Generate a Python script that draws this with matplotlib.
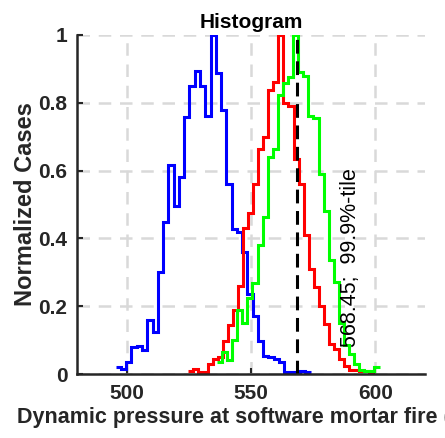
import numpy as np
import matplotlib
matplotlib.use("Agg")
from matplotlib import pyplot as plt

# normalized bin heights
blue_start = 495.56
blue_width = 2.12
blue_vals = [0.022, 0.015, 0.034, 0.079, 0.084, 0.071, 0.158, 0.125, 0.30, 0.448,
             0.616, 0.497, 0.581, 0.759, 0.849, 0.895, 0.849, 0.76, 1.0, 0.889,
             0.778, 0.56, 0.429, 0.419, 0.36, 0.236, 0.17, 0.097, 0.054, 0.05,
             0.045, 0.035, 0.005, 0.005, 0.0, 0.008, 0.005]

red_start = 524.48
red_width = 2.03
red_vals = [0.008, 0.015, 0.005, 0.005, 0.03, 0.044, 0.05, 0.098, 0.145, 0.19,
            0.26, 0.43, 0.475, 0.56, 0.665, 0.70, 0.837, 0.862, 1.0, 0.80,
            0.79, 0.635, 0.56, 0.41, 0.31, 0.256, 0.20, 0.148, 0.089, 0.074,
            0.044, 0.025, 0.012, 0.012, 0.008, 0.008, 0.005]

green_start = 536.29
green_width = 2.044
green_vals = [0.035, 0.065, 0.04, 0.10, 0.19, 0.15, 0.225, 0.268, 0.38, 0.463,
              0.64, 0.665, 0.823, 0.857, 0.877, 1.0, 0.89, 0.88, 0.76, 0.755,
              0.59, 0.48, 0.335, 0.27, 0.15, 0.085, 0.06, 0.03, 0.012, 0.01,
              0.01, 0.022]

p999 = 568.45
x_ticks = [500, 550, 600]
y_ticks = [0, 0.2, 0.4, 0.6, 0.8, 1]

plt.rcParams['font.family'] = ['Liberation Sans', 'DejaVu Sans']

fig = plt.figure(figsize=(4.45, 4.38), dpi=100)
ax = fig.add_axes([77/445, 64/438, 348/445, 339/438])

def edges(start, width, vals):
    return start + width * np.arange(len(vals) + 1)

ax.stairs(blue_vals, edges(blue_start, blue_width, blue_vals), color=(0, 0, 1), lw=2.2, baseline=None)
ax.stairs(red_vals, edges(red_start, red_width, red_vals), color=(1, 0, 0), lw=2.2, baseline=None)
ax.stairs(green_vals, edges(green_start, green_width, green_vals), color=(0, 1, 0), lw=2.2, baseline=None)

ax.plot([p999, p999], [0, 1], color='k', lw=2.2, linestyle=(0, (4.5, 2.5)))
ax.text(p999 + 21.5, 0.08, f"{p999:.2f};  99.9%-tile", rotation=90,
        ha='center', va='bottom', fontsize=15.5)

ax.set_xlim(480, 620)
ax.set_ylim(0, 1)
ax.set_xticks(x_ticks)
ax.set_yticks(y_ticks)
ax.set_yticklabels([f"{v:g}" for v in y_ticks])

for s in ['top', 'right']:
    ax.spines[s].set_visible(False)
for s in ['left', 'bottom']:
    ax.spines[s].set_color('#262626')
    ax.spines[s].set_linewidth(1.8)

ax.tick_params(direction='in', length=4, width=1.5, color='#262626', labelsize=15, pad=7)
for lab in ax.get_xticklabels() + ax.get_yticklabels():
    lab.set_fontweight('bold')
    lab.set_color('#262626')

ax.grid(True, color='#d9d9d9', lw=1.8, linestyle=(0, (5, 3.5)))
ax.set_axisbelow(True)

ax.set_title("Histogram", fontsize=15, fontweight='bold', pad=5)
ax.set_xlabel("Dynamic pressure at software mortar fire (Pa)", fontsize=15.5, fontweight='bold', color='#262626', labelpad=3)
ax.set_ylabel("Normalized Cases", fontsize=17, fontweight='bold', color='#262626', labelpad=1)

fig.savefig("out.png", dpi=100)
